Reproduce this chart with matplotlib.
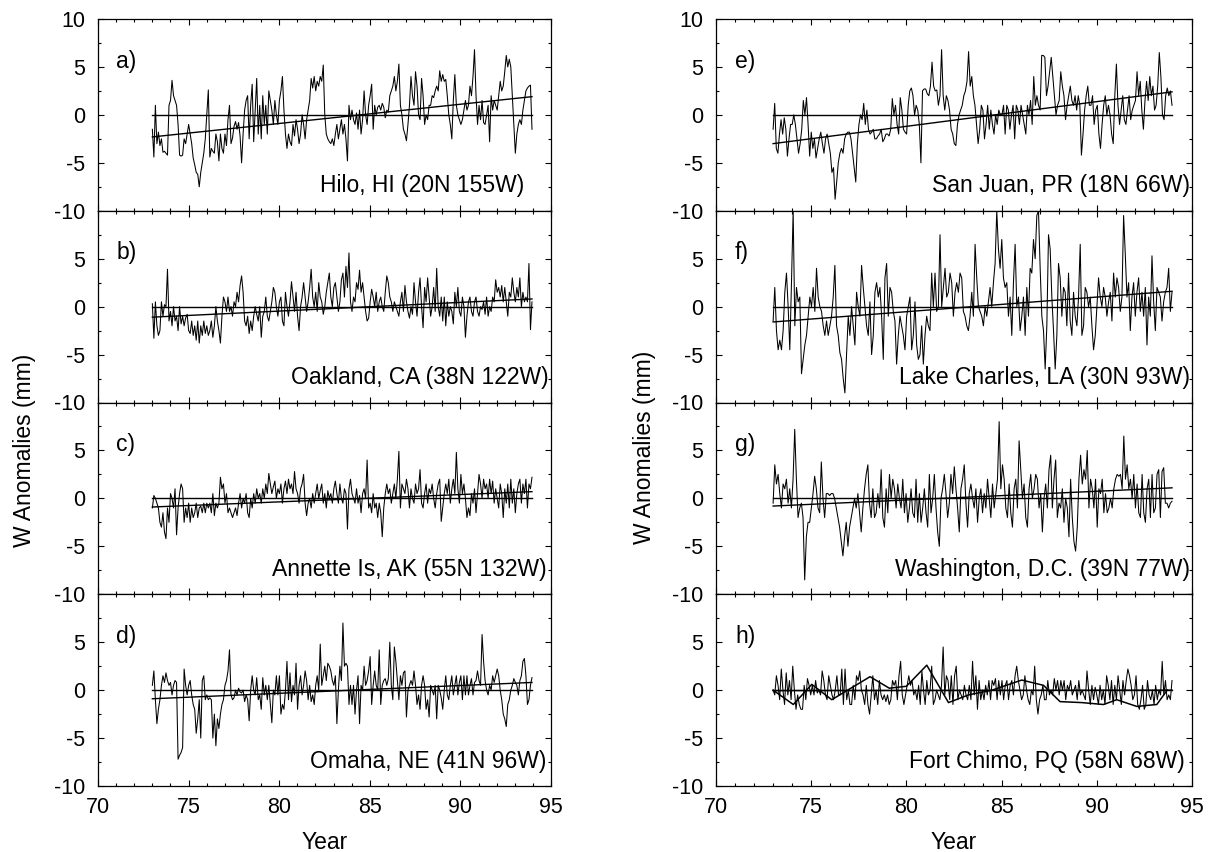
import numpy as np
import matplotlib
matplotlib.use("Agg")
import matplotlib.pyplot as plt
from matplotlib.ticker import MultipleLocator

plt.rcParams["font.family"] = ["Liberation Sans", "DejaVu Sans"]
plt.rcParams["axes.unicode_minus"] = False

# monthly precipitable water anomalies (mm), 1973 -> end of 1993
hilo = [
    -1.5, -4.4, 1.0, -3.0, -1.8, -3.2, -2.5, -3.9, -3.8, -4.0, -4.2, 1.0,
    1.5, 3.6, 2.0, 1.5, 1.0, -1.0, -4.2, -4.3, -4.2, -2.5, -3.0, -2.0,
    -1.0, -2.0, -3.0, -4.5, -5.2, -6.0, -6.2, -7.5, -6.0, -5.0, -4.0, -2.5,
    0.0, 2.6, -4.4, -3.5, -3.8, -4.0, -2.0, -2.8, -4.8, -2.0, -3.5, -4.0,
    -2.0, -3.2, -0.5, 1.0, -3.0, -2.4, -1.2, -0.7, -1.5, -0.8, -2.2, -5.0,
    -2.0, 0.5, 1.5, 2.0, -2.5, 1.0, 3.2, -2.8, 0.5, 3.8, -2.0, 1.0,
    -2.5, 2.0, -1.0, 1.0, -2.0, 2.5, 1.5, 0.5, -1.0, 1.5, 0.0, -1.0,
    1.5, 2.5, 4.0, 0.5, -2.0, -3.5, -2.0, -2.8, -3.2, -1.0, -2.2, -0.5,
    -1.5, -3.0, -2.0, 0.0, -1.0, -2.5, -0.5, 0.5, 1.5, 3.8, 2.8, 4.0,
    2.5, 3.5, 3.0, 4.0, 3.5, 5.2, 0.0, -2.0, -2.5, -2.8, -3.0, -2.5,
    -3.2, -2.0, -1.0, -2.5, -1.5, -0.5, -2.0, -1.0, -2.5, -4.8, 1.0, -0.5,
    0.5, -0.5, -1.0, 0.2, -1.5, 0.5, -2.0, -0.5, 2.5, 0.0, -1.0, 1.0,
    2.0, 3.2, -1.5, 1.0, 0.0, 0.8, 1.0, 0.5, 1.2, 0.8, -0.3, 0.5,
    0.3, 2.0, 2.5, 3.0, 4.0, 2.5, 3.5, 5.3, 1.0, 0.0, -1.5, -2.0,
    -2.7, -1.0, 1.0, 4.0, 2.0, 1.0, 4.5, 3.0, 0.0, -0.5, 3.8, 2.0,
    -1.0, 0.0, -0.5, 1.0, 1.0, 2.0, 1.8, 2.5, 3.0, 2.5, 4.6, 3.5,
    4.2, 3.5, 3.7, 2.0, 0.0, -1.0, -2.5, 1.5, 4.2, 1.0, 0.0, -0.5,
    -1.0, -0.5, 0.5, 1.5, 0.5, 1.0, 3.0, 2.0, 4.0, 6.8, 2.0, -1.0,
    1.0, -0.5, 1.5, -0.8, -1.0, 0.0, 1.0, -2.8, 2.0, 0.5, 1.5, 1.0,
    0.5, 2.0, 3.5, 2.5, 3.0, 4.5, 6.2, 5.0, 5.8, 5.0, 2.0, -1.0,
    -4.0, -2.0, -1.0, -0.5, -1.0, 0.5, 1.5, 2.5, 2.8, 3.0, 3.1, -1.5,
]
oakland = [
    0.3, -3.3, 0.5, -2.0, -3.0, -2.5, 0.5, -1.0, 0.2, 0.0, 3.9, -1.5,
    -0.5, -2.0, 0.0, -1.5, -1.0, -2.5, 0.0, -1.8, -1.0, -2.0, -1.2, -0.8,
    -2.5, -2.8, -1.5, -3.0, -2.0, -3.5, -1.5, -3.8, -2.0, -3.0, -1.5, -2.8,
    -2.0, -3.0, -2.5, -1.5, -3.2, -2.0, 0.0, -1.5, -2.5, -3.8, -1.0, 1.0,
    0.5, -0.5, 1.0, -0.5, 0.0, -1.0, 0.5, 0.0, 1.5, 0.5, 2.2, 3.2,
    1.5, -1.5, -2.0, -1.0, -2.8, -1.5, -2.5, -1.0, 0.0, -0.8, -1.5, 0.0,
    -3.2, -1.0, -0.5, 1.0, -1.0, -1.5, -0.5, 0.5, 2.0, 1.5, 0.0, -1.0,
    0.5, 1.0, -1.5, -2.0, 1.5, 0.0, -1.0, 0.5, 2.6, 1.0, -0.5, 1.5,
    -1.0, -2.5, 0.0, 1.0, 2.5, 1.0, -0.5, 0.5, 2.0, 3.9, 1.0, 0.0,
    1.5, -0.5, 2.5, 1.0, 0.5, -0.8, 0.0, 1.5, 2.5, 3.5, 1.0, 0.0,
    2.0, 2.5, 1.0, -0.5, 0.5, 2.8, 3.5, 1.0, 4.2, 2.0, 5.6, 0.5,
    -0.5, 1.0, 0.5, 2.5, 1.8, 3.8, 1.5, 2.5, 1.0, -0.5, -1.5, -1.2,
    0.5, 1.8, 1.0, 0.0, 1.5, -0.5, 0.5, 1.0, 0.0, -0.5, 1.5, 3.2,
    2.5, 1.0, 0.5, -0.5, 0.5, 0.0, -0.5, -1.0, 0.5, 1.5, -0.5, 2.2,
    0.5, -0.5, -1.2, 0.0, -0.8, 2.5, 0.5, -1.0, 1.5, 3.0, 0.0, -2.2,
    2.0, 0.5, 3.0, 1.0, -1.0, 0.0, 2.0, -0.5, 4.0, 0.0, -1.0, 1.0,
    -1.5, 1.0, -2.0, 0.5, -1.0, 0.0, -0.5, -1.8, 1.5, 0.0, 2.0, -0.5,
    -1.0, 1.0, 0.0, -3.2, -1.0, 0.5, 1.0, -0.5, -1.0, 0.5, 1.0, -0.5,
    -1.0, 0.0, -0.3, 0.5, -0.8, 1.0, -1.0, 0.0, -0.5, 1.0, 0.5, 2.8,
    1.5, 2.0, 1.0, 2.2, 0.5, 2.0, 0.5, -1.0, 1.5, 1.0, 3.0, 1.5,
    0.5, 2.0, 1.0, 3.0, 0.0, 1.5, 0.5, 1.0, 0.5, 4.5, -2.4, 0.5,
]
annette = [
    -1.0, 0.3, 0.0, -0.5, -1.0, -2.5, -3.0, -1.5, -3.5, -4.2, -1.0, -2.5,
    0.5, 0.0, -1.0, 1.0, -3.8, -1.0, 0.5, 1.5, 1.0, -2.5, -1.0, -2.0,
    -0.5, -2.5, -1.0, -2.0, -1.5, -0.5, -2.0, -1.0, -0.8, -1.5, -0.5, -1.5,
    -0.5, -1.0, -0.5, -1.5, 0.5, -1.8, -0.5, -1.0, -0.5, 2.2, 1.0, 1.5,
    -0.5, 0.5, -1.5, -1.0, -1.5, -2.0, -1.5, -1.0, -1.8, -0.5, 0.5, -1.0,
    0.0, -0.5, 0.5, -1.5, -2.0, 0.0, -1.0, 0.5, -0.5, 1.0, 0.0, 0.5,
    -0.5, 1.0, 0.0, 1.5, 0.5, 2.6, 1.5, 0.5, 1.2, 1.8, 0.0, 1.0,
    0.5, 1.5, -0.5, 1.0, 1.8, 0.5, 2.0, 1.0, 1.5, 0.5, 2.8, 1.0,
    0.5, -0.5, 1.0, 1.5, 2.5, -0.5, -1.8, -0.5, 0.0, -1.0, 0.5, -0.5,
    0.5, 1.5, 0.0, 0.8, 1.5, -0.5, 0.5, -1.0, 0.8, 0.0, 0.5, -0.5,
    1.0, 1.8, 0.5, -0.5, 1.5, 0.0, -0.5, 1.0, 0.5, -3.2, 1.0, 2.0,
    0.5, 0.0, -0.5, 1.0, -0.5, 0.3, -1.5, 0.5, 1.0, 0.0, 4.0, -1.0,
    -0.5, -1.5, 0.5, -1.0, -0.5, -2.0, -0.5, -1.5, -4.0, -1.0, 0.5, 1.5,
    0.5, 1.0, -0.5, 0.5, 1.5, 0.0, 2.0, 4.9, -1.0, 1.5, 1.0, 0.5,
    2.0, 1.0, -1.0, 1.0, 0.0, -0.5, 1.5, 0.5, 1.0, 3.0, -0.5, -1.0,
    0.5, 1.5, -0.5, 1.0, 0.5, 1.5, 0.0, -1.0, 0.5, 1.5, 2.0, -2.4,
    -1.0, 0.5, 1.5, 0.5, 2.0, -0.5, 1.0, 2.0, 0.5, 4.8, 1.0, -0.5,
    2.5, 0.5, 1.5, 0.0, -2.0, -1.0, -1.8, 0.5, -0.5, 1.0, -1.5, 0.5,
    2.5, 1.5, 0.0, 2.0, 1.0, 1.5, 0.0, 2.0, 0.5, 1.8, -0.5, 1.0,
    0.0, -1.0, 1.5, 0.5, -2.0, 1.0, -0.5, 1.5, -1.0, 2.0, -0.5, 1.0,
    -1.5, 0.5, 1.5, 2.0, -0.5, 1.5, 0.5, 2.0, -1.0, 1.5, 1.0, 2.2,
]
omaha = [
    0.5, 2.0, -1.0, -3.5, -2.0, -1.0, 0.5, 1.5, 0.8, 1.8, 1.0, 0.5,
    0.8, -0.5, 0.5, 1.0, 0.8, -7.2, -6.8, -6.5, -6.0, 2.2, 0.5, -0.5,
    0.5, 1.0, -0.5, -1.5, -2.0, -4.5, -3.0, -1.0, -5.0, 1.0, 1.5, -1.0,
    -0.5, -1.0, -0.8, -1.0, -5.0, -2.5, -5.8, -3.0, -4.0, -2.5, -1.5, -1.0,
    0.5, 1.0, 2.0, 4.2, -0.5, -1.0, -0.8, 0.0, -0.5, 0.2, -0.2, -0.3,
    0.0, -1.2, -0.5, -1.0, -3.2, 0.0, 1.5, 0.0, -0.5, 1.3, -1.0, -0.5,
    -2.0, 1.3, -0.5, 0.5, -1.0, 0.5, -1.5, -3.4, 0.0, -0.5, 1.5, -0.5,
    1.5, -2.5, -1.5, -2.0, 0.0, 3.0, -1.0, 1.8, -1.2, 0.5, -0.5, 2.8,
    -2.0, 0.5, 1.5, -0.5, 0.5, 2.0, 1.0, -1.0, 0.5, -1.2, -0.5, -1.5,
    0.5, 1.5, 0.0, 4.8, 0.5, 1.5, 2.5, 1.0, 2.8, 2.5, 2.0, 1.0,
    0.5, 1.5, -3.5, 0.0, 2.5, 1.0, 7.0, 2.5, 2.8, 2.5, -1.5, 0.5,
    -1.5, 0.5, -2.5, 0.0, 1.5, -3.5, 0.5, 0.0, 2.5, 0.5, 1.0, 2.0,
    3.5, -1.5, 0.5, 2.0, 0.5, 0.0, 4.2, -1.5, 0.5, 1.0, 1.2, 0.5,
    1.2, 5.0, 0.5, -1.0, 4.5, 3.0, 1.0, -1.0, 1.5, 0.5, 1.8, 2.0,
    -2.8, 0.0, 0.5, 1.0, 0.5, 2.0, 0.5, -1.5, -0.5, -2.0, 0.5, 1.5,
    0.5, -2.0, -1.0, -2.8, 0.5, 0.0, -0.5, 0.5, -3.0, 0.5, 0.0, -0.8,
    -2.0, 0.0, 1.5, -0.5, -1.0, 0.5, 1.5, -0.5, 0.5, 1.5, -0.5, 0.8,
    1.5, -1.0, 1.5, -0.5, 1.5, -0.5, 0.5, 1.2, -0.5, 0.8, 1.0, 2.0,
    1.0, 0.5, 5.8, 3.0, 1.0, 0.0, -0.5, 0.5, 0.0, 1.5, 0.8, 1.5,
    2.2, 1.5, 0.0, -1.0, -2.5, -3.0, -3.8, -1.5, -1.0, 0.0, 0.5, 1.2,
    0.8, 0.5, -0.5, 1.0, 1.5, 3.0, 3.3, 1.5, -1.5, -1.0, 0.5, 1.3,
]
san_juan = [
    -1.5, 1.2, -3.5, -4.0, -2.0, -0.5, -2.0, -0.3, -1.5, -4.3, -2.5, -1.0,
    -1.0, 0.0, -1.0, -2.5, -4.0, -3.0, -1.5, 1.5, 0.0, 1.8, -1.0, -4.3,
    -1.8, -3.5, -2.5, -4.5, -3.5, -2.5, -1.8, -3.0, -4.0, -2.5, -2.0, -3.0,
    -4.0, -6.0, -5.5, -8.8, -7.0, -5.0, -4.0, -3.5, -4.0, -2.5, -2.0, -1.8,
    -1.8, -2.5, -4.0, -5.5, -7.0, -3.0, -1.0, 0.0, -0.5, 1.2, -1.0, 0.5,
    -1.5, -2.0, -1.8, -1.5, -2.5, -2.5, -2.2, -2.0, -1.5, -2.8, -2.5, -2.0,
    -2.0, -2.2, -1.5, 1.7, 0.0, 1.0, -1.0, -2.0, 1.8, 0.5, -1.5, -1.8,
    -2.0, 1.0, 2.5, 2.8, 2.0, 0.0, 1.0, 0.5, -1.0, -5.0, 2.5, 2.7,
    2.7, 2.2, 2.0, 3.0, 5.5, 3.0, 2.5, 2.6, 1.0, 2.0, 6.8, 2.0,
    0.5, 2.0, 1.5, 0.5, -1.5, -2.0, -3.0, -3.2, -1.0, 0.0, 0.5, 1.0,
    2.0, 2.5, 3.5, 6.6, 3.0, 4.0, 2.0, 1.0, -1.0, -3.0, -1.5, 1.0,
    0.5, -2.5, -1.0, 1.0, -1.5, 0.5, -1.0, -2.0, 0.0, -1.0, 0.5, 0.0,
    0.0, 1.0, -2.0, 1.0, 0.5, -1.5, 0.0, 1.0, -2.5, 1.0, 0.5, -1.0,
    1.0, 0.0, -1.0, -2.0, 1.0, 0.0, 1.5, -1.0, 4.0, 1.0, 2.0, 1.0,
    0.5, 6.2, 6.2, 6.0, 2.0, 3.0, 4.5, 6.0, 4.0, 2.0, 0.0, 1.0,
    1.5, 4.5, 3.0, 2.0, -0.5, 1.0, 2.0, 3.0, 1.5, 1.0, 2.0, 0.5,
    2.0, 1.0, -4.2, -2.0, 0.5, 2.0, 3.0, 1.0, 1.0, 2.0, -1.0, 0.5,
    1.0, -2.0, -3.5, -1.0, 1.0, 2.0, 0.0, 1.0, 0.0, -2.0, -3.0, 2.0,
    5.3, 1.0, -1.0, 0.5, 2.0, -0.5, -1.0, 0.5, 2.0, -0.5, 0.5, 1.0,
    1.5, 4.5, 2.0, 3.5, 0.5, -1.5, 1.5, 3.5, 1.5, 4.0, 2.0, 3.0,
    0.5, 1.0, 3.0, 6.5, 4.0, 0.0, -0.5, 2.0, 2.8, 2.0, 2.5, 1.0,
]
lake_charles = [
    -1.5, 2, -2.5, -4.5, -3.5, -4.5, -2.5, 1.5, 3.5, 0, -4.5, 2.5, 10, -2, 2,
    0.5, 1, -7, -5.5, -4, -3, -1, 1, 0, 2, -0.5, 4, 1, 0, -0.5, -2, -3, -1.5,
    -3, -2, -1, 1, 4.3, -2, -3, -4.8, -5.5, -7.5, -9, -5, -1, -3, 0, -2, -4,
    1.5, 0, -1, 4.3, 2, 0, -2, -3, 0.5, -5, -3, 1.5, 2.5, 1, 2, -1, -5.5, 3,
    4.5, -1, 2, 1.5, -0.5, -1.5, -6, -3, -1, -2, -3, -4.5, -1, 0, 1, -4.5, -3,
    0.5, -4, -5.5, -5, -2, -6, -3, -1, -2, -2.5, 3.5, 0, 3.5, -0.5, 0, 7.5, 0,
    2, 4, 1, 1.5, 3.5, 2.5, -1, 1.5, 2.5, 1.5, 3.5, 3, -0.5, -1, -2, -2.5, -1,
    1.5, -1, 6.5, 3, 0, -0.5, -1, -2, 0, -1, 0.5, 2, 0, 2.5, 4.5, 10, 6, 4, 7,
    3, 2, 2.5, -1, 1, -3, 2.5, 6.5, 0, 1, -2.5, -1, 1, -3, 2, -1, 4, 3.5, 7,
    5, 9.5, 10, 4, -1, -2.5, -6.5, -2, 7.5, 6, 1, -2.5, -6.5, -3, 4.5, 3, -1,
    2, 1.5, -2, 3.5, -1.5, -3, 1.5, -1, -2, 1, 6.5, -3, -2, 2, 1.5, 0, 1, -2,
    -4.5, -3, 0, 3, 1, 0, 2, 1, -1, 0.5, 1.5, -1.5, 3.5, 1, 3, 2, -0.5, 1,
    9.5, 5.5, 1, 2.5, -2.5, 1, 2.5, -1, 1.5, 3, -0.5, 1.5, -1, 2, -4, 1, -1,
    5.3, 0.5, -2.5, 2, 1.5, 1, -1.5, 0.5, 1.5, 2, 4, -0.5, 1.5,
]
washington = [
    -0.5, 3.5, 1.5, 2.5, 0.5, -1, 1.5, 1, 2, -0.5, 1, -1, 2, 7.2, 2, -2, -1,
    -0.5, -2, -8.5, -4, -2.5, -2.5, -1, 0.5, 2.3, 1, -1, -1.5, 3.8, 0, -2,
    0.5, 0.5, 0.3, 0.5, 0.5, 0, -1, -2, -3, -4.5, -6, -4, -2.5, -5, -3, -2,
    -1, 0, -1, 0.5, -1.5, -3.5, -1, 1, 2.5, 3.5, -0.5, -2, 1, -2, -1.5, 0.5,
    -1, 3, -2, -3, 1, -1.5, 2.5, 0, 2, 1, -1, 1.5, 0, -1, 2, -1.5, 0.5, -2.5,
    -1, 1, -1.5, -2, 2, -2.5, 0.5, -2.5, -1, 1, -1.5, -3, 2.5, -1.5, 0, 2.5,
    -1, -3.5, -5, 0, 1, 2.5, 0.5, -2, -0.5, 2.5, 0.5, 3.3, 1, -1, -3.5, 1, 2,
    3.5, -0.5, -3, 0.5, 1.5, 0, -1, 1, -2.5, 0, 1, -1.5, 0.5, -1, 2, 0, -2,
    1.5, -1, 0.5, 2, 8, 1, 3.5, 2, -1, -2, 1.5, -1.5, -3, 1, 2, -1, 6, 3, 0,
    1.5, -2, -3, 1, 2.5, 0, 1, 2.5, 2, -1, 0.5, -3.5, 0, 1.5, -1, 3, 4.5, -1,
    2, 4, -2, -0.5, -1, 1, -2.5, 0, -1, -4, 2, -2, -4.5, -5.5, -3, 2, 4.5,
    1.5, 3, 2, 5, -1, 2, 1, -1, 2, -3, 1, 0.5, 2, -1.5, 0.5, -1.5, -1, 0, -1,
    1, 2, 2.5, 2.3, 2.5, 1, 6.5, 2, 3.5, 1, 2, 0, 2.5, -1, 1.5, -1.5, -2, 2.5,
    -1.5, -2.5, 1, 2, -2, 2.5, -1.5, -1, 2.5, 3, -2, 2.8, 3.2, -0.5, -0.5, -1,
    -0.5, -0.3,
]
fort_chimo = [
    0, -0.5, 1.5, 0.5, -1, 2.2, 0, -1.5, 1.8, -0.5, 1, -1, 2.5, 0, -2, -0.5,
    -1.5, -2, -2, 0.5, -1, 1.2, 0.5, -0.5, 0.5, -0.5, 1, -0.3, 0, -0.5, 2, 1,
    -0.5, -1, 1.5, 0.5, -0.5, -1, 0, 1.5, -0.5, -0.5, 2.2, -1.5, 2.2, -1, 0,
    -1.5, -1.5, 0.5, -1, 1.5, 1, 2, 0, -0.5, -1.5, 0.5, -1.5, -2.5, -0.5, 1.5,
    -1, 0, -1.5, 1, -0.5, -1, -0.5, -1.2, -0.5, -1.5, -1, 1, 0.5, 1, -1, 1.5,
    3, -0.5, -1.5, -0.5, 0.5, 1.5, 0.5, 1, -0.5, 0, -1, 0.5, -1.5, 2, 0, -1.5,
    1, -0.5, 0, 2.5, -1.5, -1, 0, -0.5, -1, 0.5, 4.5, -0.5, 1.5, 1, -1, 1.5,
    -1.5, 1.5, 2.5, -1, 0, -0.5, -1, 0.5, -0.5, -1, 0.5, -1, 3, -0.5, 1.5, -2,
    1, -1, 0, -1, 0.5, -0.5, 1, -1, 1, 0.5, 1.2, -1, 1, -0.5, 1, -1, 0.5, 1,
    -1, 0.5, 1, -0.5, 1.5, 2.5, 1, 0, -1, -0.5, 1.5, 0, -1, -1.5, 0, -0.5,
    2.5, -1, -2.5, -1, -0.5, 0.5, -1, -1, 1, -0.5, 0, -0.5, 1.2, 0, 1, -0.5,
    1, 0, 1, -1, 0.5, 0, 1, -0.5, 0, 0.5, -1, 1, -0.5, 0, -0.5, -1, 2, 0,
    -1.5, 0.5, -1, 0.3, -0.5, -1.5, 0.5, -1, 0, -1.5, 1.5, 0.5, -1, 1, -1.5,
    0.5, -1, 1.5, 0, -1.5, 1, -0.5, 1, 2.2, 1.5, 0.5, -1, -0.5, 1.5, -1.5, -2,
    -1, 0.5, -2, -1.5, 1, -0.5, -1, 0, -1.5, 0.5, -1, 0, -0.5, 3, -0.5, 1, -1,
    -0.5, -1, 1,
]

# slowly varying reference curve drawn over the Fort Chimo record
chimo_curve_yr = [73.0, 74.06, 75.03, 76.08, 78.09, 79.1, 80.0, 81.07, 82.21,
                  83.26, 84.5, 86.06, 87.2, 88.07, 89.21, 90.35, 91.05, 92.1,
                  93.15, 93.7]
chimo_curve_val = [0.0, -1.5, 0.6, -1.0, 1.4, 0.2, 0.4, 2.6, -1.3,
                   -0.5, 0.0, 1.05, 0.5, -1.2, -1.3, -1.5, -1.0, -1.7,
                   -1.5, 0.0]

series = [hilo, oakland, annette, omaha, san_juan, lake_charles, washington, fort_chimo]
letters = ["a)", "b)", "c)", "d)", "e)", "f)", "g)", "h)"]
stations = ["Hilo, HI (20N 155W)", "Oakland, CA (38N 122W)",
            "Annette Is, AK (55N 132W)", "Omaha, NE (41N 96W)",
            "San Juan, PR (18N 66W)", "Lake Charles, LA (30N 93W)",
            "Washington, D.C. (39N 77W)", "Fort Chimo, PQ (58N 68W)"]
trend_start = [-2.3, -1.1, -0.9, -0.9, -3.0, -1.6, -0.8, -0.05]
trend_end = [1.9, 0.8, 0.7, 0.8, 2.4, 1.6, 1.1, 0.0]
t0, t1 = 73.0, 93.95

W, H = 1225, 852
fig = plt.figure(figsize=(W / 100, H / 100), dpi=100)

col_left = [98 / W, 716 / W]
col_width = [453 / W, 476 / W]
top, bottom = 1 - 19 / H, 1 - 786 / H
ph = (top - bottom) / 4
label_x = [0.94, 0.995, 0.99, 0.99, 0.995, 0.995, 0.995, 0.985]

for i, vals in enumerate(series):
    col, row = divmod(i, 4)
    ax = fig.add_axes([col_left[col], top - (row + 1) * ph, col_width[col], ph])
    t = np.linspace(t0, t1, len(vals))
    ax.plot(t, vals, color="black", lw=0.75)
    ax.plot([t0, t1], [0, 0], color="black", lw=1.0)
    ax.plot([t0, t1], [trend_start[i], trend_end[i]], color="black", lw=1.0)
    if i == 7:
        ax.plot(chimo_curve_yr, chimo_curve_val, color="black", lw=1.1)

    ax.set_xlim(70, 95)
    ax.set_ylim(-10, 10)
    ax.xaxis.set_major_locator(MultipleLocator(5))
    ax.xaxis.set_minor_locator(MultipleLocator(1))
    ax.set_yticks([-10, -5, 0, 5, 10] if row == 0 else [-10, -5, 0, 5])
    ax.yaxis.set_minor_locator(MultipleLocator(2.5))
    ax.tick_params(which="both", direction="in", top=True, right=True,
                   labelsize=15.5, width=0.8)
    ax.tick_params(which="major", length=4.5)
    ax.tick_params(which="minor", length=2.5)
    ax.tick_params(axis="y", pad=9)
    ax.tick_params(axis="x", pad=8)
    if row < 3:
        ax.tick_params(labelbottom=False)
    for s in ax.spines.values():
        s.set_linewidth(0.9)

    ax.text(0.04, 0.78, letters[i], transform=ax.transAxes, fontsize=16.5,
            va="center", ha="left")
    ax.text(label_x[i], 0.13, stations[i], transform=ax.transAxes,
            fontsize=16.5, va="center", ha="right")

for col in range(2):
    xc = col_left[col] + col_width[col] / 2
    fig.text(xc, 3 / H, "Year", ha="center", va="baseline", fontsize=16.5)
fig.text(25 / W, 402 / H, "W Anomalies (mm)", rotation=90, ha="center",
         va="center", fontsize=16.5)
fig.text(645 / W, 405 / H, "W Anomalies (mm)", rotation=90, ha="center",
         va="center", fontsize=16.5)

fig.savefig("out.png", dpi=100)
